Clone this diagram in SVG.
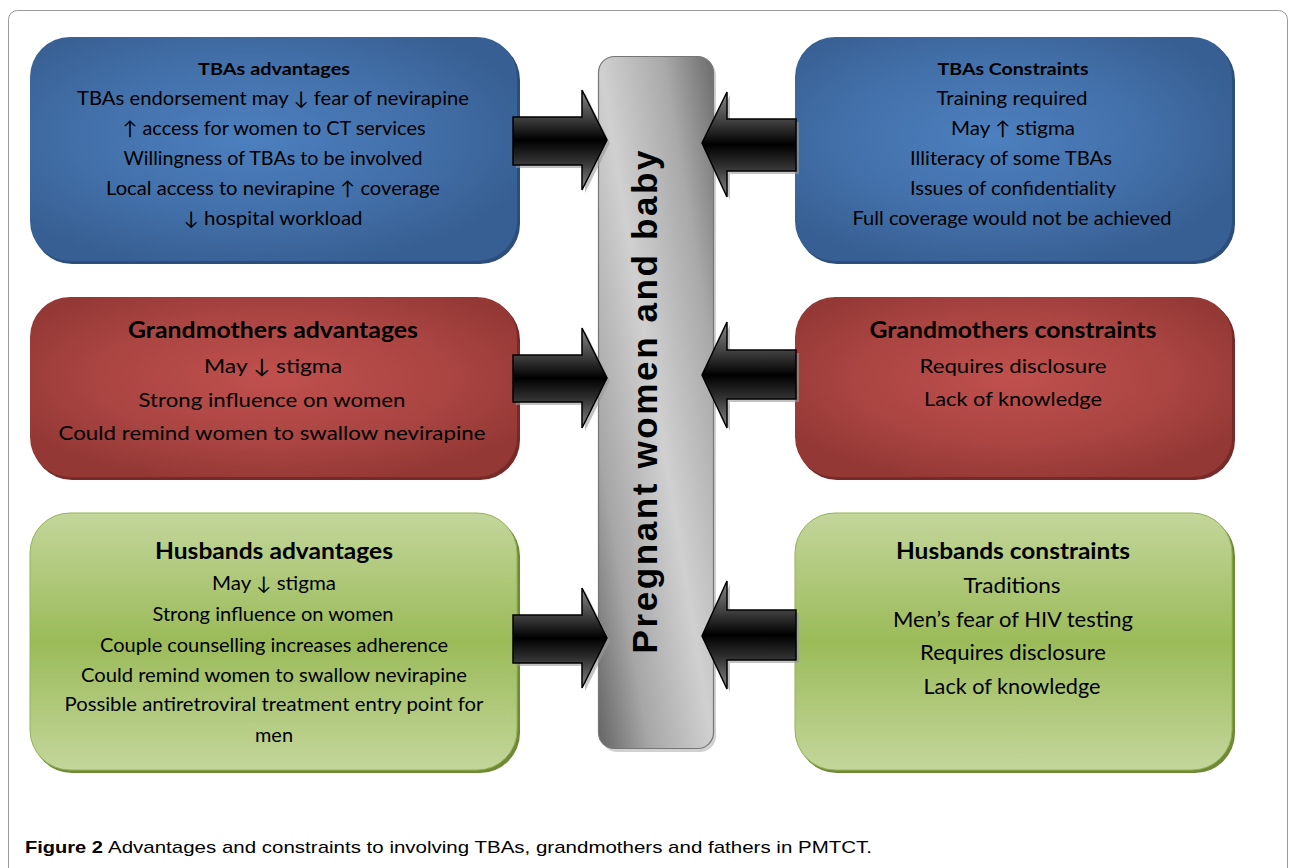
<svg xmlns="http://www.w3.org/2000/svg" width="1289" height="868" viewBox="0 0 1289 868">
<defs>
<radialGradient id="gBlue" cx="0.45" cy="0.45" r="0.6">
<stop offset="0" stop-color="#4d80bf"/>
<stop offset="0.6" stop-color="#426fa8"/>
<stop offset="1" stop-color="#375f93"/>
</radialGradient>
<radialGradient id="gRed" cx="0.5" cy="0.45" r="0.6">
<stop offset="0" stop-color="#c0504d"/>
<stop offset="0.6" stop-color="#aa4542"/>
<stop offset="1" stop-color="#943835"/>
</radialGradient>
<linearGradient id="gGreen" x1="0" y1="0" x2="0" y2="1">
<stop offset="0" stop-color="#c3d69b"/>
<stop offset="0.5" stop-color="#9bbb59"/>
<stop offset="1" stop-color="#c3d69b"/>
</linearGradient>
<linearGradient id="gPillar" x1="1" y1="0" x2="0" y2="1">
<stop offset="0" stop-color="#6c6c6c"/>
<stop offset="0.22" stop-color="#a9a9a9"/>
<stop offset="0.5" stop-color="#d0d0d0"/>
<stop offset="0.78" stop-color="#a6a6a6"/>
<stop offset="1" stop-color="#646464"/>
</linearGradient>
<linearGradient id="gArrow" x1="0" y1="0" x2="0" y2="1">
<stop offset="0" stop-color="#8a8a8a"/>
<stop offset="0.3" stop-color="#3a3a3a"/>
<stop offset="0.5" stop-color="#000000"/>
<stop offset="0.7" stop-color="#2e2e2e"/>
<stop offset="1" stop-color="#8a8a8a"/>
</linearGradient>
<style>
.t{font-family:Lato,"Liberation Sans",sans-serif;fill:#000;text-anchor:middle}
.b{font-weight:bold}
.arrow{fill:url(#gArrow);stroke:#000;stroke-width:1.5;stroke-linejoin:miter}
.ash{fill:#9a9a9a;opacity:0.6}
</style>
</defs>
<rect x="8.5" y="10.5" width="1279" height="900" rx="9" fill="#fff" stroke="#9a9a9a" stroke-width="1"/>

<g id="tbas-adv">
<rect x="32" y="40" width="488" height="224" rx="40" fill="#2d4e7b"/>
<rect x="30" y="37" width="487" height="224" rx="40" fill="url(#gBlue)"/>
<text class="t b" x="274" y="75" font-size="17" textLength="152" lengthAdjust="spacingAndGlyphs">TBAs advantages</text>
<text class="t" x="273" y="105" font-size="19" textLength="392" lengthAdjust="spacingAndGlyphs">TBAs endorsement may ↓ fear of nevirapine</text>
<text class="t" x="274" y="135" font-size="19" textLength="303" lengthAdjust="spacingAndGlyphs">↑ access for women to CT services</text>
<text class="t" x="273" y="165" font-size="19" textLength="299" lengthAdjust="spacingAndGlyphs">Willingness of TBAs to be involved</text>
<text class="t" x="273" y="195" font-size="19" textLength="334" lengthAdjust="spacingAndGlyphs">Local access to nevirapine ↑ coverage</text>
<text class="t" x="273" y="225" font-size="19" textLength="179" lengthAdjust="spacingAndGlyphs">↓ hospital workload</text>
</g>

<g id="tbas-con">
<rect x="797" y="40" width="438" height="224" rx="40" fill="#2d4e7b"/>
<rect x="795" y="37" width="437" height="224" rx="40" fill="url(#gBlue)"/>
<text class="t b" x="1013" y="75" font-size="17" textLength="151" lengthAdjust="spacingAndGlyphs">TBAs Constraints</text>
<text class="t" x="1012" y="105" font-size="19" textLength="151" lengthAdjust="spacingAndGlyphs">Training required</text>
<text class="t" x="1013" y="135" font-size="19" textLength="124" lengthAdjust="spacingAndGlyphs">May ↑ stigma</text>
<text class="t" x="1011" y="165" font-size="19" textLength="202" lengthAdjust="spacingAndGlyphs">Illiteracy of some TBAs</text>
<text class="t" x="1013" y="195" font-size="19" textLength="206" lengthAdjust="spacingAndGlyphs">Issues of confidentiality</text>
<text class="t" x="1012" y="225" font-size="19" textLength="319" lengthAdjust="spacingAndGlyphs">Full coverage would not be achieved</text>
</g>

<g id="gm-adv">
<rect x="32" y="300" width="488" height="180" rx="40" fill="#772b29"/>
<rect x="30" y="297" width="487" height="180" rx="40" fill="url(#gRed)"/>
<text class="t b" x="273" y="338" font-size="22" textLength="290" lengthAdjust="spacingAndGlyphs">Grandmothers advantages</text>
<text class="t" x="273" y="373" font-size="20" textLength="138" lengthAdjust="spacingAndGlyphs">May ↓ stigma</text>
<text class="t" x="272" y="407" font-size="20" textLength="267" lengthAdjust="spacingAndGlyphs">Strong influence on women</text>
<text class="t" x="272" y="440" font-size="20" textLength="427" lengthAdjust="spacingAndGlyphs">Could remind women to swallow nevirapine</text>
</g>

<g id="gm-con">
<rect x="797" y="300" width="438" height="180" rx="40" fill="#772b29"/>
<rect x="795" y="297" width="437" height="180" rx="40" fill="url(#gRed)"/>
<text class="t b" x="1013" y="338" font-size="22" textLength="287" lengthAdjust="spacingAndGlyphs">Grandmothers constraints</text>
<text class="t" x="1013" y="373" font-size="20" textLength="187" lengthAdjust="spacingAndGlyphs">Requires disclosure</text>
<text class="t" x="1013" y="406" font-size="20" textLength="178" lengthAdjust="spacingAndGlyphs">Lack of knowledge</text>
</g>

<g id="hus-adv">
<rect x="32" y="516" width="488" height="257" rx="40" fill="#6f8a37"/>
<rect x="30" y="513" width="487" height="257" rx="40" fill="url(#gGreen)" stroke="#93b355" stroke-width="1"/>
<text class="t b" x="274" y="559" font-size="22" textLength="238" lengthAdjust="spacingAndGlyphs">Husbands advantages</text>
<text class="t" x="274" y="590" font-size="19" textLength="124" lengthAdjust="spacingAndGlyphs">May ↓ stigma</text>
<text class="t" x="273" y="621" font-size="19" textLength="241" lengthAdjust="spacingAndGlyphs">Strong influence on women</text>
<text class="t" x="274" y="652" font-size="19" textLength="348" lengthAdjust="spacingAndGlyphs">Couple counselling increases adherence</text>
<text class="t" x="274" y="682" font-size="19" textLength="386" lengthAdjust="spacingAndGlyphs">Could remind women to swallow nevirapine</text>
<text class="t" x="274" y="711" font-size="19" textLength="419" lengthAdjust="spacingAndGlyphs">Possible antiretroviral treatment entry point for</text>
<text class="t" x="274" y="742" font-size="19" textLength="38" lengthAdjust="spacingAndGlyphs">men</text>
</g>

<g id="hus-con">
<rect x="797" y="516" width="438" height="257" rx="40" fill="#6f8a37"/>
<rect x="795" y="513" width="437" height="257" rx="40" fill="url(#gGreen)" stroke="#93b355" stroke-width="1"/>
<text class="t b" x="1013" y="559" font-size="22" textLength="234" lengthAdjust="spacingAndGlyphs">Husbands constraints</text>
<text class="t" x="1012" y="593" font-size="21" textLength="97" lengthAdjust="spacingAndGlyphs">Traditions</text>
<text class="t" x="1013" y="627" font-size="21" textLength="240" lengthAdjust="spacingAndGlyphs">Men’s fear of HIV testing</text>
<text class="t" x="1013" y="660" font-size="21" textLength="186" lengthAdjust="spacingAndGlyphs">Requires disclosure</text>
<text class="t" x="1012" y="694" font-size="21" textLength="177" lengthAdjust="spacingAndGlyphs">Lack of knowledge</text>
</g>

<g id="pillar">
<rect x="601" y="59" width="115" height="693" rx="16" fill="#bdbdbd" opacity="0.7"/>
<rect x="598.5" y="56.5" width="115" height="692" rx="16" fill="url(#gPillar)" stroke="#767676" stroke-width="1.2"/>
<text x="657" y="402" transform="rotate(-90 657 402)" text-anchor="middle" font-family="'Liberation Sans',Arial,sans-serif" font-weight="bold" font-size="35" textLength="503" lengthAdjust="spacing" fill="#000">Pregnant women and baby</text>
</g>

<g id="connectors">
<path class="ash" d="M516,120 H585 V93 L610,143 L585,193 V168 H516 Z"/>
<path class="arrow" d="M513,117 H582 V90 L607,140 L582,190 V165 H513 Z"/>
<path class="ash" d="M799,122 H730 V95 L705,146 L730,200 V174 H799 Z"/>
<path class="arrow" d="M796,119 H727 V92 L702,143 L727,197 V171 H796 Z"/>

<path class="ash" d="M516,358 H585 V331 L610,381 L585,431 V405 H516 Z"/>
<path class="arrow" d="M513,355 H582 V328 L607,378 L582,428 V402 H513 Z"/>
<path class="ash" d="M799,353 H730 V325 L705,378 L730,431 V402 H799 Z"/>
<path class="arrow" d="M796,350 H727 V322 L702,375 L727,428 V399 H796 Z"/>

<path class="ash" d="M516,618 H585 V591 L610,641 L585,691 V666 H516 Z"/>
<path class="arrow" d="M513,615 H582 V588 L607,638 L582,688 V663 H513 Z"/>
<path class="ash" d="M799,613 H730 V584 L705,639 L730,692 V663 H799 Z"/>
<path class="arrow" d="M796,610 H727 V581 L702,636 L727,689 V660 H796 Z"/>
</g>

<text x="25" y="853" font-family="'Liberation Sans',Arial,sans-serif" font-weight="bold" font-size="17" textLength="78" lengthAdjust="spacingAndGlyphs" fill="#000">Figure 2</text>
<text x="108" y="853" font-family="'Liberation Sans',Arial,sans-serif" font-size="17" textLength="764" lengthAdjust="spacingAndGlyphs" fill="#000">Advantages and constraints to involving TBAs, grandmothers and fathers in PMTCT.</text>
</svg>
